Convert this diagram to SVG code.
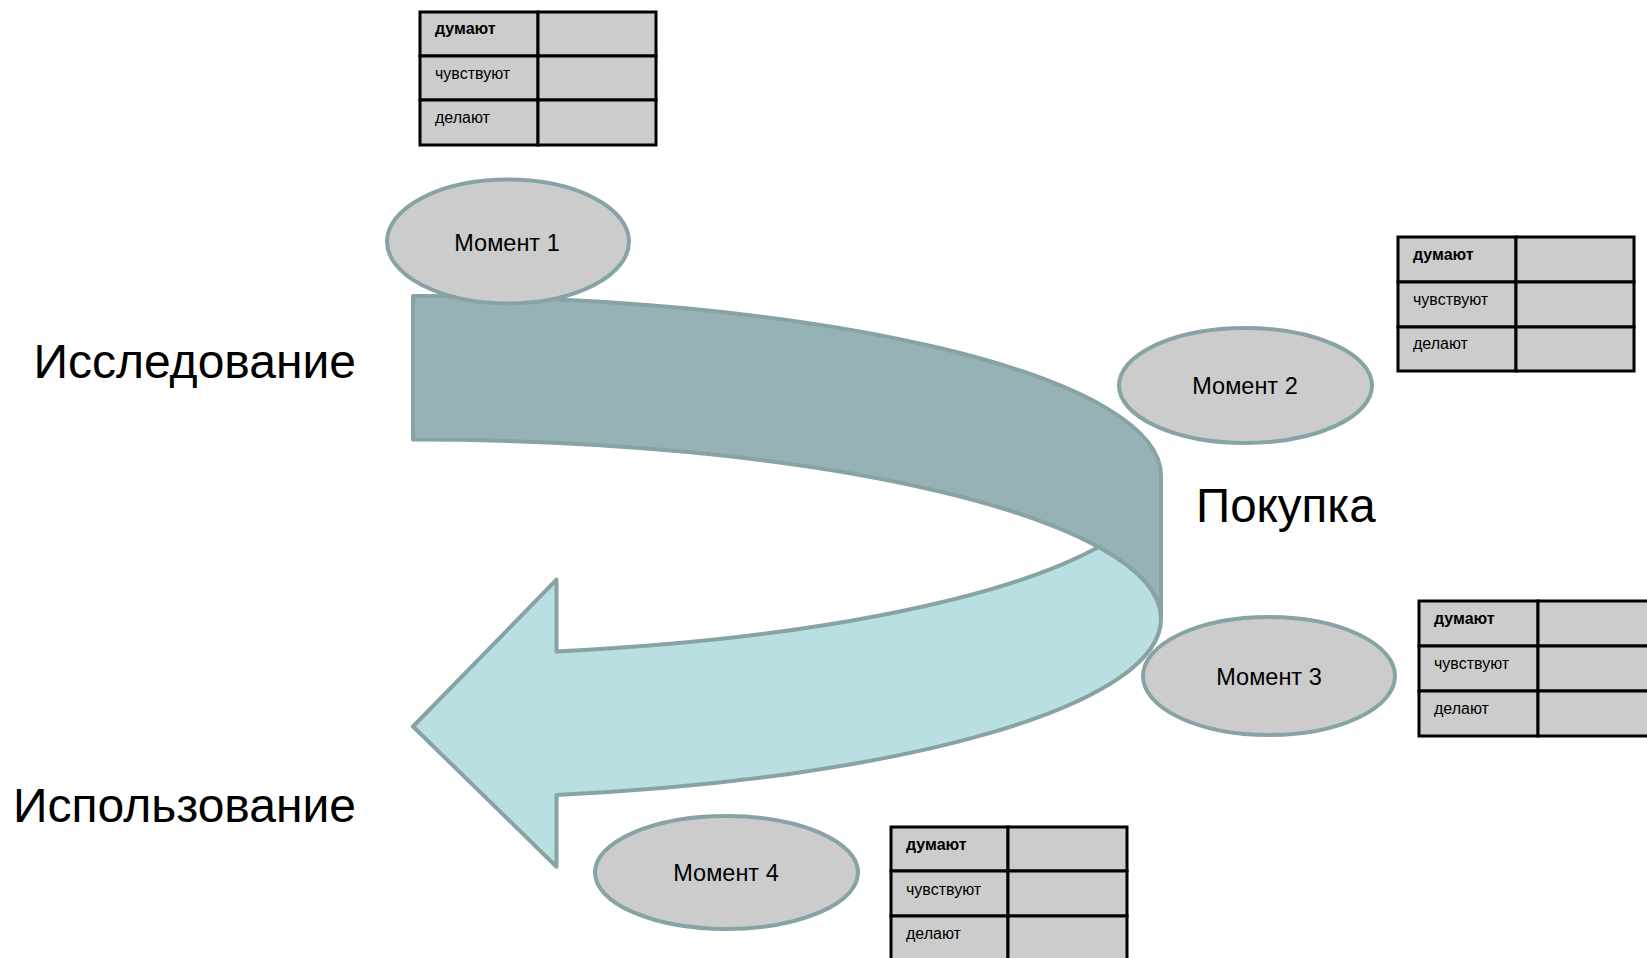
<svg xmlns="http://www.w3.org/2000/svg" width="1647" height="958" viewBox="0 0 1647 958">
<style>
  .lbl { font-family: "Liberation Sans", Arial, sans-serif; fill: #000; }
  .big { font-size: 48px; }
  .mom { font-size: 23.5px; text-anchor: middle; }
  .cell { fill: #cccccc; stroke: #000; stroke-width: 3; }
  .ct { font-family: "Liberation Sans", Arial, sans-serif; font-size: 16px; fill: #000; }
  .ctb { font-weight: bold; }
  .ell { fill: #cccccc; stroke: #87a3a5; stroke-width: 4; }
  .back { fill: #96b2b4; stroke: #87a3a5; stroke-width: 4; stroke-linejoin: round; }
  .front { fill: #b9dfe2; stroke: #87a3a5; stroke-width: 4; stroke-linejoin: round; }
</style>
<rect width="1647" height="958" fill="#ffffff"/>

<g id="flow-arrow">
  <path class="back" d="M 413,296 A 748 179.375 0 0 1 1161,475.375 L 1161,618.875 A 748 179.375 0 0 0 413,439.5 Z"/>
  <path class="front" d="M 1161,618.875 A 748 179.375 0 0 1 556.5,794.9 L 556.5,866.7 L 413,726.5 L 556.5,579.7 L 556.5,651.4 A 748 179.375 0 0 0 1098.5,547.1 A 748 179.375 0 0 1 1161,618.875 Z"/>
</g>

<g id="connectors"></g>

<g id="stage-research">
  <text class="lbl big" x="356" y="378" text-anchor="end">Исследование</text>
</g>
<g id="stage-purchase">
  <text class="lbl big" x="1196" y="522" style="font-size:47.5px">Покупка</text>
</g>
<g id="stage-usage">
  <text class="lbl big" x="356" y="822" text-anchor="end">Использование</text>
</g>

<g id="moment1">
  <ellipse class="ell" cx="508" cy="241.5" rx="121" ry="62"/>
  <text class="lbl mom" x="507" y="251">Момент 1</text>
</g>
<g id="moment2">
  <ellipse class="ell" cx="1245.5" cy="385.5" rx="126.5" ry="57.5"/>
  <text class="lbl mom" x="1245" y="394">Момент 2</text>
</g>
<g id="moment3">
  <ellipse class="ell" cx="1269" cy="676" rx="126" ry="59"/>
  <text class="lbl mom" x="1269" y="684.5">Момент 3</text>
</g>
<g id="moment4">
  <ellipse class="ell" cx="726.5" cy="872.5" rx="131.5" ry="56.5"/>
  <text class="lbl mom" x="726" y="881">Момент 4</text>
</g>

<g id="table1">
  <rect class="cell" x="420" y="12" width="118" height="44"/>
  <rect class="cell" x="538" y="12" width="118" height="44"/>
  <rect class="cell" x="420" y="56" width="118" height="44"/>
  <rect class="cell" x="538" y="56" width="118" height="44"/>
  <rect class="cell" x="420" y="100" width="118" height="45"/>
  <rect class="cell" x="538" y="100" width="118" height="45"/>
  <text class="ct ctb" x="435" y="34">думают</text>
  <text class="ct" x="435" y="79">чувствуют</text>
  <text class="ct" x="435" y="123">делают</text>
</g>

<g id="table2">
  <rect class="cell" x="1398" y="237" width="118" height="45"/>
  <rect class="cell" x="1516" y="237" width="118" height="45"/>
  <rect class="cell" x="1398" y="282" width="118" height="45"/>
  <rect class="cell" x="1516" y="282" width="118" height="45"/>
  <rect class="cell" x="1398" y="327" width="118" height="44"/>
  <rect class="cell" x="1516" y="327" width="118" height="44"/>
  <text class="ct ctb" x="1413" y="260">думают</text>
  <text class="ct" x="1413" y="305">чувствуют</text>
  <text class="ct" x="1413" y="349">делают</text>
</g>

<g id="table3">
  <rect class="cell" x="1419" y="601" width="119" height="45"/>
  <rect class="cell" x="1538" y="601" width="118" height="45"/>
  <rect class="cell" x="1419" y="646" width="119" height="45"/>
  <rect class="cell" x="1538" y="646" width="118" height="45"/>
  <rect class="cell" x="1419" y="691" width="119" height="45"/>
  <rect class="cell" x="1538" y="691" width="118" height="45"/>
  <text class="ct ctb" x="1434" y="624">думают</text>
  <text class="ct" x="1434" y="669">чувствуют</text>
  <text class="ct" x="1434" y="714">делают</text>
</g>

<g id="table4">
  <rect class="cell" x="891" y="827" width="117" height="44"/>
  <rect class="cell" x="1008" y="827" width="119" height="44"/>
  <rect class="cell" x="891" y="871" width="117" height="45"/>
  <rect class="cell" x="1008" y="871" width="119" height="45"/>
  <rect class="cell" x="891" y="916" width="117" height="45"/>
  <rect class="cell" x="1008" y="916" width="119" height="45"/>
  <text class="ct ctb" x="906" y="850">думают</text>
  <text class="ct" x="906" y="895">чувствуют</text>
  <text class="ct" x="906" y="939">делают</text>
</g>
</svg>
